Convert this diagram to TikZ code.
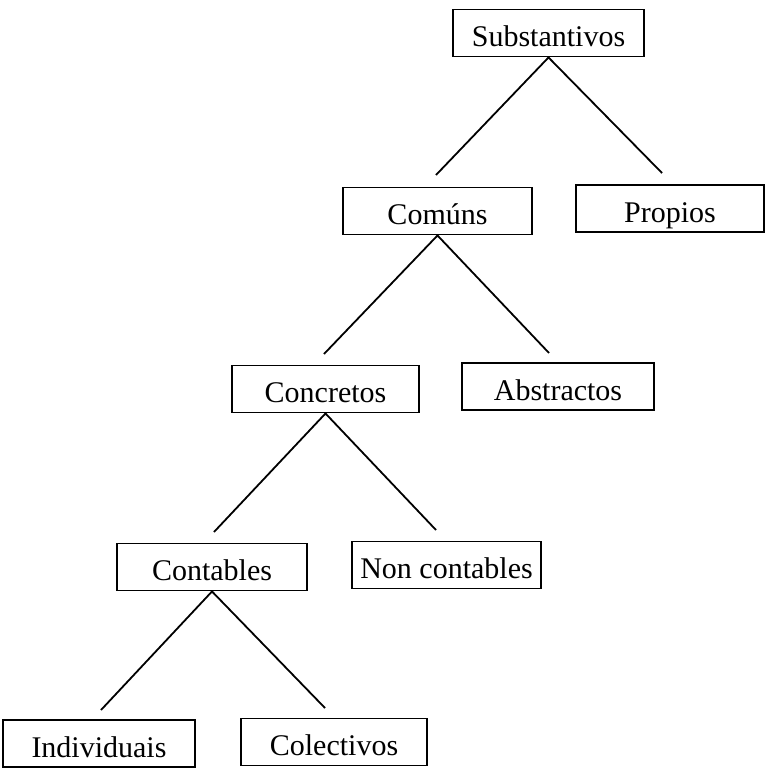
\documentclass[tikz,border=0pt]{standalone}
\usepackage{fontspec}
\setmainfont{Liberation Serif}
\begin{document}
\begin{tikzpicture}[x=1pt,y=-1pt,
  box/.style={draw,line width=1.9pt,rectangle,inner sep=0pt,minimum height=47pt,
    font=\fontsize{30}{34}\selectfont,text height=29pt,text depth=2pt},
  link/.style={line width=1.8pt}]
\useasboundingbox (0,0) rectangle (771,776);
\node[box,minimum width=191pt] (sub) at (548.5,33) {Substantivos};
\node[box,minimum width=189pt] (com) at (437.5,211) {Comúns};
\node[box,minimum width=188pt] (pro) at (670,208.5) {Propios};
\node[box,minimum width=187pt] (con) at (325.5,389) {Concretos};
\node[box,minimum width=192pt] (abs) at (558,386.5) {Abstractos};
\node[box,minimum width=190pt] (cnt) at (212,567) {Contables};
\node[box,minimum width=189pt] (non) at (446.5,565) {Non contables};
\node[box,minimum width=192pt] (ind) at (99,743.5) {Individuais};
\node[box,minimum width=186pt] (col) at (334,742) {Colectivos};
\coordinate (e1) at (436,175);
\coordinate (e2) at (662,173);
\coordinate (e3) at (324,354);
\coordinate (e4) at (549,353);
\coordinate (e5) at (214,532);
\coordinate (e6) at (436,530);
\coordinate (e7) at (101,710);
\coordinate (e8) at (325,708);
\draw[link] (e1) -- (sub.south) -- (e2);
\draw[link] (e3) -- (com.south) -- (e4);
\draw[link] (e5) -- (con.south) -- (e6);
\draw[link] (e7) -- (cnt.south) -- (e8);
\end{tikzpicture}
\end{document}
